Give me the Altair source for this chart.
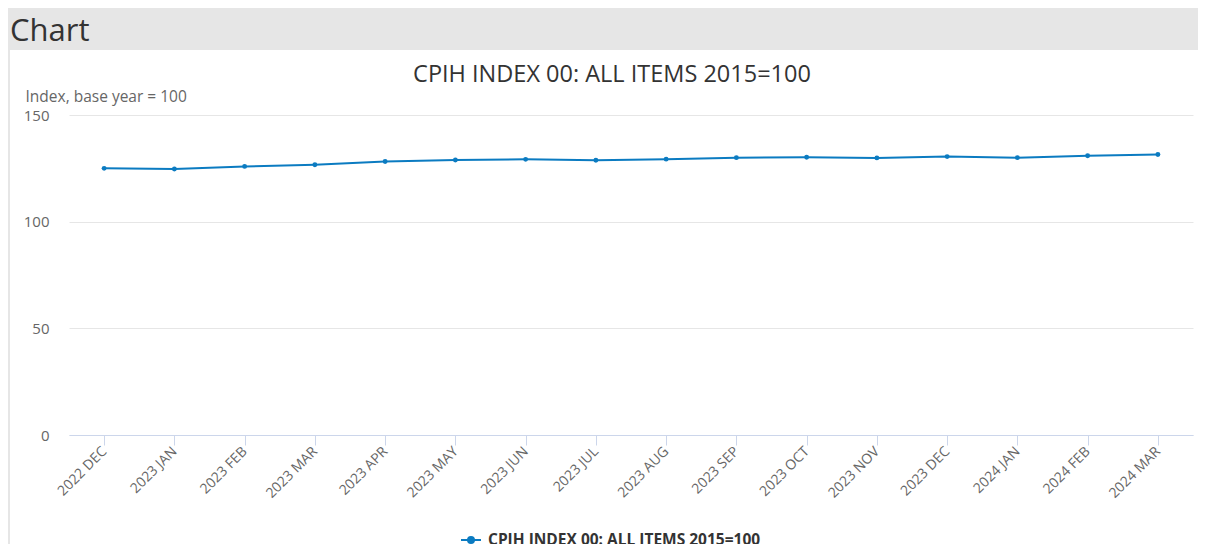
import altair as alt
import pandas as pd

# ---- data ----
months = ["2022 DEC", "2023 JAN", "2023 FEB", "2023 MAR", "2023 APR", "2023 MAY",
          "2023 JUN", "2023 JUL", "2023 AUG", "2023 SEP", "2023 OCT", "2023 NOV",
          "2023 DEC", "2024 JAN", "2024 FEB", "2024 MAR"]
values = [125.0, 124.7, 125.9, 126.7, 128.2, 128.9, 129.2, 128.8,
          129.3, 130.0, 130.2, 129.9, 130.5, 130.0, 130.9, 131.5]
series_name = "CPIH INDEX 00: ALL ITEMS 2015=100"
y_ticks = [0, 50, 100, 150]
chart_title = "CPIH INDEX 00: ALL ITEMS 2015=100"
y_title = "Index, base year = 100"
header_text = "Chart"

df = pd.DataFrame({"month": months, "value": values, "series": series_name})
one = alt.Data(values=[{"k": 1}])

W, H = 1124, 320
BLUE = "#0b7bc1"
FONT = "Open Sans"
GREY_BAND = "#e6e6e6"

x_enc = alt.X(
    "month:N", sort=months,
    scale=alt.Scale(type="point", padding=0.5),
    axis=alt.Axis(title=None, labelAngle=-45, labelAlign="right", labelBaseline="middle",
                  labelFont=FONT, labelFontSize=14, labelColor="#666666",
                  domainColor="#ccd6eb", tickColor="#ccd6eb", tickSize=10,
                  labelPadding=4, grid=False, labelOverlap=False),
)
y_enc = alt.Y(
    "value:Q", scale=alt.Scale(domain=[0, 150], nice=False, zero=True),
    axis=alt.Axis(values=y_ticks, title=y_title, titleAngle=0, titleX=-44, titleY=-19,
                  titleAlign="left", titleBaseline="middle", titleFont=FONT,
                  titleFontWeight="normal", titleFontSize=15.5, titleColor="#666666",
                  labelFont=FONT, labelFontSize=15, labelColor="#666666",
                  labelPadding=20, domain=False, ticks=False,
                  gridColor="#e6e6e6", labelBaseline="middle"),
)

sym = "M-1,0L1,0M-0.3,0A0.3,0.3,0,1,1,0.3,0A0.3,0.3,0,1,1,-0.3,0Z"

line = alt.Chart(df).mark_line(strokeWidth=2).encode(
    x=x_enc, y=y_enc,
    color=alt.Color("series:N", scale=alt.Scale(range=[BLUE]),
                    legend=alt.Legend(orient="none", legendX=391, legendY=414, title=None,
                                      symbolType=sym, symbolSize=400, symbolStrokeWidth=2,
                                      symbolFillColor=BLUE, symbolStrokeColor=BLUE,
                                      labelFont=FONT, labelFontSize=15.5, labelFontWeight="bold",
                                      labelColor="#333333", labelOffset=6, padding=0,
                                      labelLimit=0)),
)
points = alt.Chart(df).mark_circle(size=24, opacity=1, color=BLUE).encode(x=x_enc, y=y_enc)

band = alt.Chart(one).mark_rect(color=GREY_BAND).encode(
    x=alt.value(-61), x2=alt.value(1129), y=alt.value(-107), y2=alt.value(-65))
border = alt.Chart(one).mark_rect(color=GREY_BAND).encode(
    x=alt.value(-61), x2=alt.value(-59), y=alt.value(-65), y2=alt.value(429))
header = alt.Chart(one).mark_text(text=header_text, align="left", baseline="alphabetic",
                                  font=FONT, fontSize=31, color="#333333").encode(
    x=alt.value(-59), y=alt.value(-74))
title = alt.Chart(one).mark_text(text=chart_title, align="center", baseline="middle",
                                 font=FONT, fontSize=23.5, color="#333333").encode(
    x=alt.value(543), y=alt.value(-40))

chart = alt.layer(band, border, header, title, line, points).properties(
    width=W, height=H,
    autosize=alt.AutoSizeParams(type="none"),
    padding={"left": 61, "top": 107, "right": 5, "bottom": 109},
    background="white",
).configure_view(stroke=None)

chart.save("out.html", embed_options={"renderer": "svg", "actions": False})
